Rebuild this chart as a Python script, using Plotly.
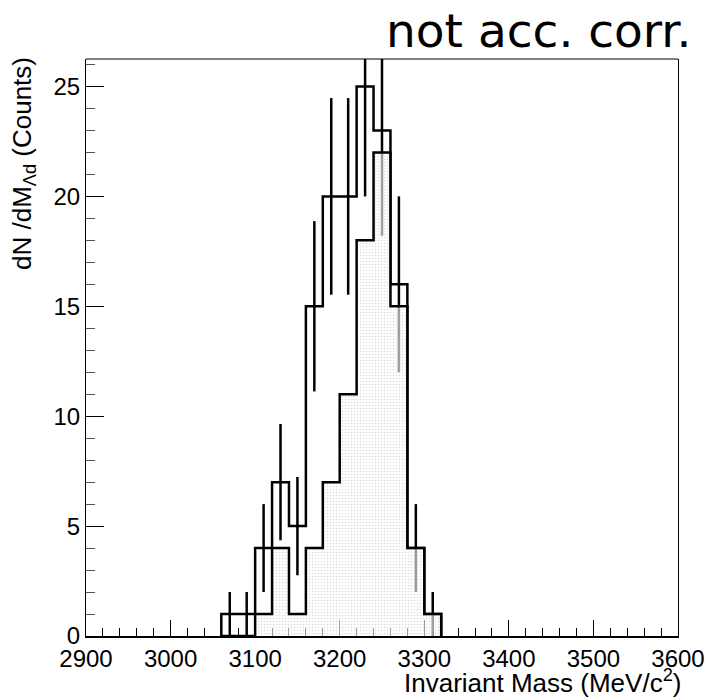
import numpy as np
import plotly.graph_objects as go

# ---- data ----
bin_edges = [3060, 3080, 3100, 3120, 3140, 3160, 3180, 3200, 3220,
             3240, 3260, 3280, 3300, 3320]
total_counts = [1, 1, 4, 7, 5, 15, 20, 20, 25, 23, 16, 4, 1]
filled_counts = [0, 0, 1, 4, 1, 4, 7, 11, 18, 22, 15, 4, 1]
x_range = [2900, 3600]
y_range = [0, 26.25]
x_tickvals = [2900, 3000, 3100, 3200, 3300, 3400, 3500, 3600]
y_tickvals = [0, 5, 10, 15, 20, 25]

centers = [(a + b) / 2 for a, b in zip(bin_edges[:-1], bin_edges[1:])]


def step_xy(edges, vals):
    xs = [edges[0]] + list(edges)
    ys = [0] + list(vals) + [0]
    return xs, ys


fig = go.Figure()

tx, ty = step_xy(bin_edges, total_counts)
fig.add_trace(go.Scatter(x=tx, y=ty, mode="lines", line_shape="hv",
                         line=dict(color="black", width=2.5),
                         hoverinfo="skip", showlegend=False))

err = [np.sqrt(v) if v > 0 else 0 for v in total_counts]
fig.add_trace(go.Scatter(x=centers, y=total_counts, mode="markers",
                         marker=dict(size=1, color="rgba(0,0,0,0)"),
                         error_y=dict(type="data", array=err, visible=True,
                                      color="black", thickness=2.5, width=0),
                         showlegend=False))

fx, fy = step_xy(bin_edges, filled_counts)
fig.add_trace(go.Scatter(x=fx, y=fy, mode="lines", line_shape="hv",
                         line=dict(color="black", width=2.5),
                         fill="tozeroy",
                         fillcolor="rgba(0,0,0,0)",
                         fillpattern=dict(shape=".", fgcolor="#bdbdbd",
                                          bgcolor="rgba(255,255,255,0.6)",
                                          size=3, solidity=0.25),
                         showlegend=False))

axis_font = dict(family="Liberation Sans, Arial, sans-serif", size=24, color="black")

# page body adds an 8px offset; figure sized to compensate
fig.update_layout(
    width=709, height=692,
    margin=dict(l=78, r=31, t=51, b=64),
    paper_bgcolor="white", plot_bgcolor="white",
    showlegend=False,
    xaxis=dict(range=x_range, tickvals=x_tickvals, ticks="inside", ticklen=16,
               tickwidth=1, tickcolor="black", showgrid=False, zeroline=False,
               showline=True, linecolor="black", linewidth=2,
               tickfont=axis_font, layer="below traces",
               minor=dict(dtick=20, ticks="inside", ticklen=8, tickcolor="black",
                          showgrid=False)),
    yaxis=dict(range=y_range, tickvals=y_tickvals, ticks="inside", ticklen=18,
               tickwidth=1, tickcolor="black", showgrid=False, zeroline=False,
               showline=True, linecolor="black", linewidth=1, mirror=True,
               tickfont=axis_font, layer="below traces",
               minor=dict(dtick=1, ticks="inside", ticklen=9, tickcolor="#555",
                          showgrid=False)),
    shapes=[dict(type="line", xref="paper", yref="paper", x0=0, x1=1, y0=1, y1=1,
                 line=dict(color="black", width=1))],
    annotations=[
        dict(text="Invariant Mass (MeV/c<sup>2</sup>)", xref="paper", yref="paper",
             x=1, y=0, xanchor="right", yanchor="top", yshift=-27, xshift=5,
             showarrow=False,
             font=dict(family="Liberation Sans, Arial, sans-serif", size=26, color="black")),
        dict(text="dN /dM<sub>Λd</sub> (Counts)", xref="paper", yref="paper",
             x=0, y=1, xanchor="right", yanchor="top", xshift=-44, yshift=4, textangle=-90,
             showarrow=False,
             font=dict(family="Liberation Sans, Arial, sans-serif", size=26, color="black")),
        dict(text="not acc. corr.", xref="paper", yref="paper",
             x=1, y=1, xanchor="right", yanchor="bottom", xshift=15, yshift=-1,
             showarrow=False,
             font=dict(family="DejaVu Sans", size=47, color="black")),
    ],
)

fig.write_html("out.html")
